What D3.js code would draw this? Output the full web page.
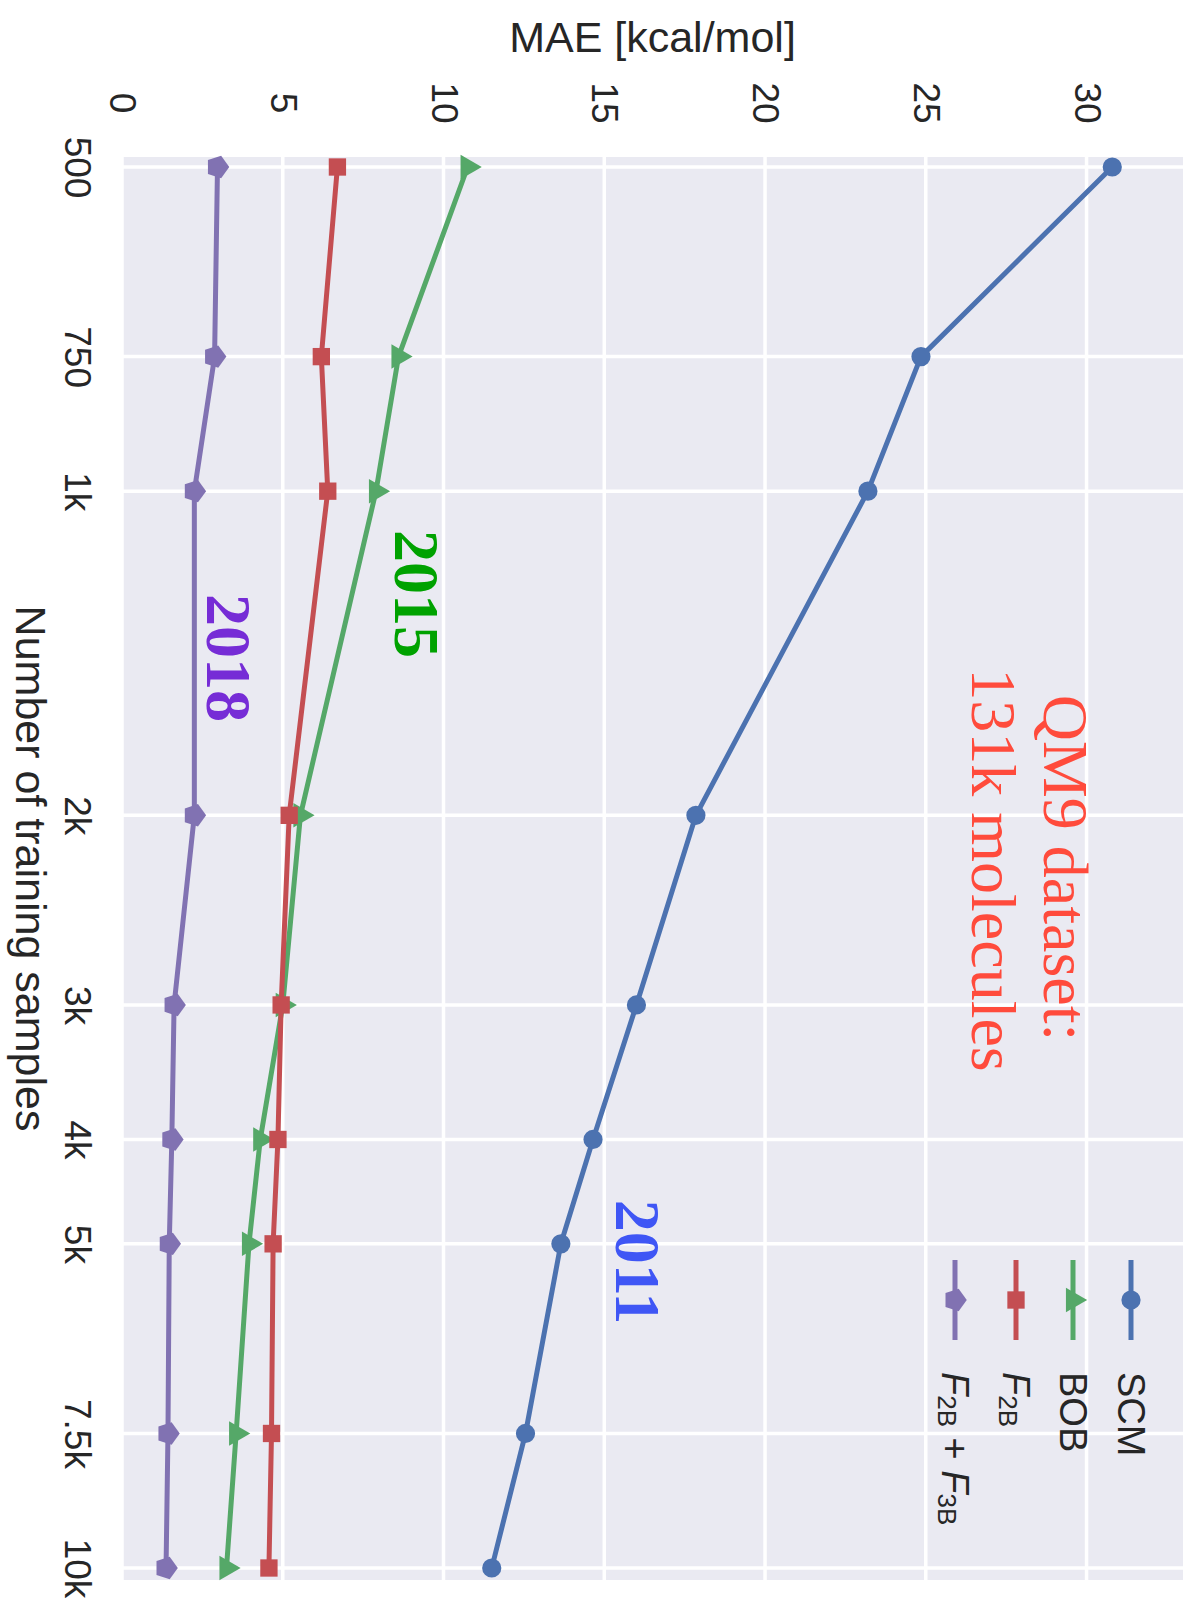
<!DOCTYPE html>
<html>
<head>
<meta charset="utf-8">
<script src="https://cdn.jsdelivr.net/npm/d3@7"></script>
<style>
  body { margin: 0; background: #fff; }
  text { font-family: "Liberation Sans", Arial, sans-serif; fill: #262626; }
  .note { font-family: "Liberation Serif", "Times New Roman", serif; }
</style>
</head>
<body>
<div id="chart"></div>
<script>
// chart data (the figure is the original plot turned 90deg clockwise)
const samples = [500, 750, 1000, 2000, 3000, 4000, 5000, 7500, 10000];
const sampleLabels = ['500', '750', '1k', '2k', '3k', '4k', '5k', '7.5k', '10k'];
const maeTicks = [0, 5, 10, 15, 20, 25, 30];

const scm   = [30.8, 24.85, 23.2, 17.85, 16.0, 14.65, 13.65, 12.55, 11.5];
const bob   = [10.75, 8.6, 7.9, 5.55, 5.0, 4.3, 3.95, 3.55, 3.25];
const f2b   = [6.7, 6.2, 6.4, 5.2, 4.95, 4.85, 4.7, 4.65, 4.57];
const f2b3b = [2.97, 2.88, 2.25, 2.25, 1.62, 1.55, 1.47, 1.43, 1.37];

const seriesNames = ['SCM', 'BOB', 'F2B', 'F2B + F3B'];
const seriesColors = ['#4C72B0', '#55A868', '#C44E52', '#8172B2'];

const width = 1193, height = 1605;
const frame = { left: 122, right: 1183, top: 157, bottom: 1580 };

const svg = d3.select('#chart')
    .append('svg')
    .attr('width', width)
    .attr('height', height);

// MAE runs left to right, training samples (log) top to bottom
const x = d3.scaleLinear()
    .domain([0, 33])
    .range([frame.left, frame.right]);

const y = d3.scaleLog()
    .domain([500, 10000])
    .range([167, 1568]);

// background + grid
svg.append('rect')
    .attr('x', frame.left)
    .attr('y', frame.top)
    .attr('width', frame.right - frame.left)
    .attr('height', frame.bottom - frame.top)
    .attr('fill', '#EAEAF2');

svg.append('g')
    .selectAll('line')
    .data(maeTicks)
    .join('line')
    .attr('x1', d => x(d))
    .attr('x2', d => x(d))
    .attr('y1', frame.top)
    .attr('y2', frame.bottom)
    .attr('stroke', '#fff')
    .attr('stroke-width', 3.5);

svg.append('g')
    .selectAll('line')
    .data(samples)
    .join('line')
    .attr('x1', frame.left)
    .attr('x2', frame.right)
    .attr('y1', d => y(d))
    .attr('y2', d => y(d))
    .attr('stroke', '#fff')
    .attr('stroke-width', 3.5);

// axes, labels turned with the plot
const xAxis = d3.axisTop(x).tickValues(maeTicks).tickSize(0);
const yAxis = d3.axisLeft(y).tickValues(samples).tickSize(0)
    .tickFormat((d, i) => sampleLabels[i]);

const gx = svg.append('g')
    .attr('transform', 'translate(0, 103)')
    .call(xAxis);

const gy = svg.append('g')
    .attr('transform', 'translate(77, 0)')
    .call(yAxis);

[gx, gy].forEach(g => {
    g.select('.domain').remove();
    g.selectAll('text')
        .attr('x', 0)
        .attr('y', 0)
        .attr('dy', null)
        .attr('transform', 'rotate(90)')
        .attr('text-anchor', 'middle')
        .attr('dominant-baseline', 'central')
        .attr('fill', '#262626')
        .style('font-family', '"Liberation Sans", Arial, sans-serif')
        .style('font-size', '37px');
});

svg.append('text')
    .attr('x', (frame.left + frame.right) / 2)
    .attr('y', 37)
    .attr('text-anchor', 'middle')
    .attr('dominant-baseline', 'central')
    .style('font-size', '43px')
    .text('MAE [kcal/mol]');

svg.append('text')
    .attr('transform', `translate(31, ${(frame.top + frame.bottom) / 2}) rotate(90)`)
    .attr('text-anchor', 'middle')
    .attr('dominant-baseline', 'central')
    .style('font-size', '43px')
    .text('Number of training samples');

// markers
const pentagon = {
    draw(ctx, size) {
        const r = Math.sqrt(size / 2.378);
        for (let k = 0; k < 5; k++) {
            const a = -Math.PI / 2 + k * 2 * Math.PI / 5;
            if (k === 0) ctx.moveTo(r * Math.cos(a), r * Math.sin(a));
            else ctx.lineTo(r * Math.cos(a), r * Math.sin(a));
        }
        ctx.closePath();
    }
};
// original markers o, ^, s, p  -> turned 90deg
const markerTypes = [
    { type: d3.symbolCircle, size: 290, rot: 0 },
    { type: d3.symbolTriangle, size: 260, rot: 90 },
    { type: d3.symbolSquare, size: 300, rot: 0 },
    { type: pentagon, size: 330, rot: 90 }
];

const allSeries = [scm, bob, f2b, f2b3b];

const line = d3.line()
    .x(d => x(d[1]))
    .y(d => y(d[0]));

allSeries.forEach((vals, i) => {
    const pts = samples.map((n, j) => [n, vals[j]]);
    const g = svg.append('g');

    g.append('path')
        .datum(pts)
        .attr('d', line)
        .attr('fill', 'none')
        .attr('stroke', seriesColors[i])
        .attr('stroke-width', 5)
        .attr('stroke-linejoin', 'round');

    g.selectAll('path.mk')
        .data(pts)
        .join('path')
        .attr('class', 'mk')
        .attr('d', d3.symbol(markerTypes[i].type, markerTypes[i].size))
        .attr('transform', d => `translate(${x(d[1])}, ${y(d[0])}) rotate(${markerTypes[i].rot})`)
        .attr('fill', seriesColors[i]);
});

// legend (bottom right after turning)
const legendX = [1131, 1073, 1016, 955];
const legend = svg.append('g');

seriesNames.forEach((name, i) => {
    const lg = legend.append('g')
        .attr('transform', `translate(${legendX[i]}, 1300)`);

    lg.append('line')
        .attr('y1', -40)
        .attr('y2', 40)
        .attr('stroke', seriesColors[i])
        .attr('stroke-width', 5);

    lg.append('path')
        .attr('d', d3.symbol(markerTypes[i].type, markerTypes[i].size))
        .attr('transform', `rotate(${markerTypes[i].rot})`)
        .attr('fill', seriesColors[i]);

    const t = lg.append('text')
        .attr('transform', 'translate(0, 72) rotate(90)')
        .attr('dominant-baseline', 'central')
        .style('font-size', '38px');

    if (name === 'SCM' || name === 'BOB') {
        t.text(name);
    } else {
        const parts = name.split(' + ');
        parts.forEach((p, k) => {
            if (k > 0) t.append('tspan').attr('dy', -8).text(' + ');
            t.append('tspan')
                .attr('dy', k > 0 ? 0 : null)
                .style('font-style', 'italic')
                .text(p[0]);
            t.append('tspan')
                .attr('dy', 8)
                .style('font-size', '26px')
                .text(p.slice(1));
        });
    }
});

// annotations
const noteFont = '"Liberation Serif", "Times New Roman", serif';

svg.append('text')
    .attr('class', 'note')
    .attr('transform', 'translate(1065, 868) rotate(90)')
    .attr('text-anchor', 'middle')
    .attr('dominant-baseline', 'central')
    .attr('fill', '#FF4B3C')
    .style('fill', '#FF4B3C')
    .style('font-size', '64px')
    .text('QM9 dataset:');

svg.append('text')
    .attr('class', 'note')
    .attr('transform', 'translate(993, 870) rotate(90)')
    .attr('text-anchor', 'middle')
    .attr('dominant-baseline', 'central')
    .style('fill', '#FF4B3C')
    .style('font-size', '64px')
    .text('131k molecules');

const years = [
    { label: '2015', x: 416, y: 594, color: '#00A200' },
    { label: '2018', x: 228, y: 658, color: '#762CD6' },
    { label: '2011', x: 637, y: 1262, color: '#3F56F5' }
];

svg.selectAll('text.year')
    .data(years)
    .join('text')
    .attr('class', 'year note')
    .attr('transform', d => `translate(${d.x}, ${d.y}) rotate(90)`)
    .attr('text-anchor', 'middle')
    .attr('dominant-baseline', 'central')
    .style('fill', d => d.color)
    .style('font-family', noteFont)
    .style('font-weight', 'bold')
    .style('font-size', '64px')
    .text(d => d.label);
</script>
</body>
</html>
